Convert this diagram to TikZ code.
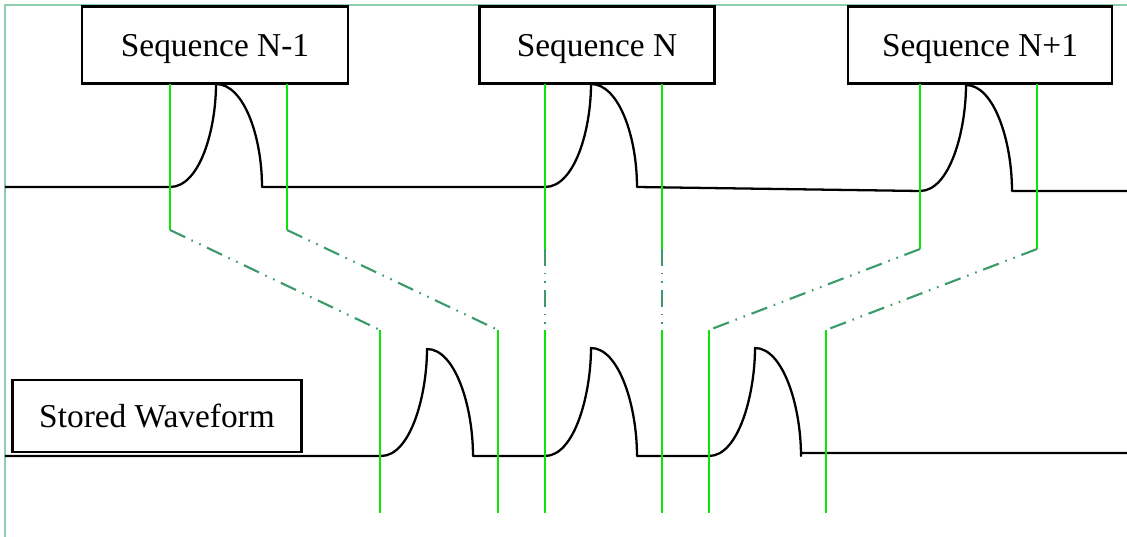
\documentclass[tikz,border=0pt]{standalone}
\usepackage{fontspec}
\setmainfont{Liberation Serif}
\usepackage{xcolor}
\usepackage{tikz}
\usetikzlibrary{positioning, arrows.meta}
\definecolor{markgreen}{HTML}{0AE60A}
\definecolor{mapteal}{HTML}{3A9A6A}
\definecolor{framemint}{HTML}{8CCFAE}

\newcommand{\pulse}[1]{.. controls +(30,0) and +(0,45) .. ++(46,-#1) .. controls +(28,0) and +(0,-50) .. ++(46,#1)}

\begin{document}
\begin{tikzpicture}[x=0.02cm, y=-0.02cm,
    seqbox/.style={draw, line width=1.2pt, inner sep=0pt, text depth=0pt,
      font=\fontsize{19}{23}\selectfont},
    wave/.style={line width=1.3pt, line join=round},
    guide/.style={markgreen, line width=1.4pt},
    mapline/.style={mapteal, line width=1.2pt,
      dash pattern=on 9.5pt off 4pt on 0.9pt off 4pt on 0.9pt off 4pt}]
    \useasboundingbox (0,0) rectangle (1127,537);
    \draw[framemint, line width=0.6pt] (5,537) -- (5,5) -- (1127,5);

    % sequence labels
    \node[seqbox, minimum width=266*0.02cm, minimum height=77*0.02cm] (seqA) at (215,45) {Sequence N-1};
    \node[seqbox, minimum width=235*0.02cm, minimum height=77*0.02cm] (seqB) at (597,45) {Sequence N};
    \node[seqbox, minimum width=264*0.02cm, minimum height=77*0.02cm] (seqC) at (980,45) {Sequence N+1};
    \node[seqbox, minimum width=289*0.02cm, minimum height=72*0.02cm] (stored) at (157,416) {Stored Waveform};

    % incoming and stored waveforms
    \draw[wave] (5,187) -- (170,187) \pulse{103} -- (545,187) \pulse{103}
      -- (920,191) \pulse{106} -- (1127,191);
    \draw[wave] (5,456) -- (381,456) \pulse{107} -- (545,456) \pulse{108}
      -- (709,456) \pulse{108} -- ++(0,-3) -- (1127,453);

    % gates mapped onto the stored waveform
    \foreach \x/\y/\t [count=\i] in {170/380/230, 287/498/230, 545/545/249,
                                     662/662/249, 920/709/249, 1037/826/249}{
      \coordinate (top\i) at (\x,84);
      \coordinate (bend\i) at (\x,\t);
      \coordinate (low\i) at (\y,330);
      \coordinate (end\i) at (\y,513);
      \draw[guide] (top\i) -- (bend\i);
      \draw[mapline] (bend\i) -- (low\i);
      \draw[guide] (low\i) -- (end\i);
    }
\end{tikzpicture}
\end{document}
